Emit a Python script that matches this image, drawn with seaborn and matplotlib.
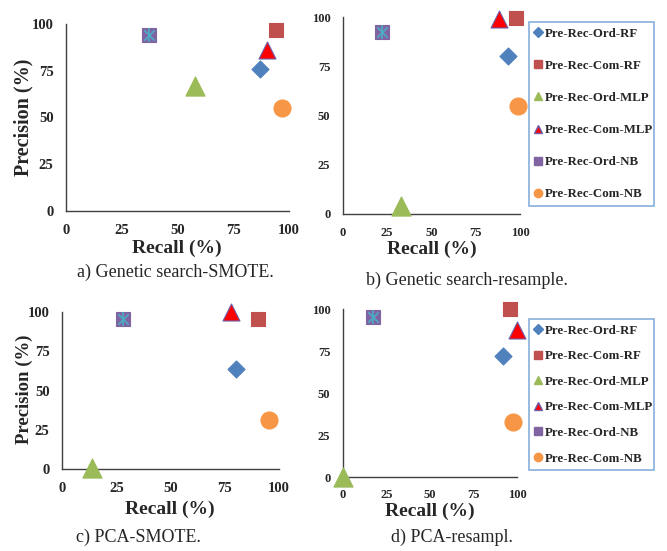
import matplotlib
matplotlib.use("Agg")
import matplotlib.pyplot as plt
from matplotlib.lines import Line2D
import pandas as pd
import seaborn as sns

series = ["Pre-Rec-Ord-RF", "Pre-Rec-Com-RF", "Pre-Rec-Ord-MLP",
          "Pre-Rec-Com-MLP", "Pre-Rec-Ord-NB", "Pre-Rec-Com-NB"]

# recall / precision per panel (%)
recall_a = [87, 94, 58, 90, 37, 97]
precision_a = [76, 97, 67, 86, 94, 55]
recall_b = [93, 98, 33, 88, 22, 99]
precision_b = [80, 99.5, 4, 99, 92.5, 55]
recall_c = [80, 90.5, 14, 78, 28, 95.5]
precision_c = [64, 95.5, 0.5, 100, 95.5, 31]
recall_d = [92, 96, 0, 100, 17, 97.5]
precision_d = [72, 100, 0, 87.5, 95, 33]

ticks = [0, 25, 50, 75, 100]
captions = ["a) Genetic search-SMOTE.", "b) Genetic search-resample.",
            "c) PCA-SMOTE.", "d) PCA-resampl."]

colors = {"Pre-Rec-Ord-RF": "#4F81BD", "Pre-Rec-Com-RF": "#C0504D",
          "Pre-Rec-Ord-MLP": "#9BBB59", "Pre-Rec-Com-MLP": "#FF0000",
          "Pre-Rec-Ord-NB": "#8064A2", "Pre-Rec-Com-NB": "#F79646"}
markers = {"Pre-Rec-Ord-RF": "D", "Pre-Rec-Com-RF": "s",
           "Pre-Rec-Ord-MLP": "^", "Pre-Rec-Com-MLP": "^",
           "Pre-Rec-Ord-NB": "s", "Pre-Rec-Com-NB": "o"}
sizes = {"Pre-Rec-Ord-RF": 75, "Pre-Rec-Com-RF": 110,
         "Pre-Rec-Ord-MLP": 190, "Pre-Rec-Com-MLP": 150,
         "Pre-Rec-Ord-NB": 110, "Pre-Rec-Com-NB": 150}
edges = {"Pre-Rec-Com-MLP": "#6F5FA8", "Pre-Rec-Ord-NB": "#8064A2"}

sns.set_style("white")
plt.rcParams["font.family"] = ["Liberation Serif", "DejaVu Serif"]
plt.rcParams["font.weight"] = "bold"

W, H = 667, 551
fig = plt.figure(figsize=(W / 100, H / 100), dpi=100)


def px_rect(x0, x1, ytop, ybot):
    return [x0 / W, 1 - ybot / H, (x1 - x0) / W, (ybot - ytop) / H]


def draw_panel(rect, rec, prec, tick_size):
    ax = fig.add_axes(rect)
    df = pd.DataFrame({"series": series, "recall": rec, "precision": prec})
    for s in series:
        sub = df[df["series"] == s]
        sns.scatterplot(data=sub, x="recall", y="precision", marker=markers[s],
                        s=sizes[s], color=colors[s],
                        edgecolor=edges.get(s, colors[s]), linewidth=0.8,
                        ax=ax, clip_on=False, zorder=3)
    nb = df[df["series"] == "Pre-Rec-Ord-NB"]
    for m, sz in (("x", 55), ("|", 90)):
        ax.scatter(nb["recall"], nb["precision"], marker=m, s=sz,
                   color="#4BACC6", linewidths=1.2, zorder=4, clip_on=False)
    ax.set_xlim(0, 100)
    ax.set_ylim(0, 100)
    ax.set_xticks(ticks)
    ax.set_yticks(ticks)
    ax.set_xlabel("")
    ax.set_ylabel("")
    sns.despine(ax=ax)
    for sp in ("left", "bottom"):
        ax.spines[sp].set_color("#404040")
        ax.spines[sp].set_linewidth(1.0)
    ax.tick_params(axis="both", direction="out", length=4, width=1,
                   color="#404040", labelsize=tick_size, pad=5)
    for lab in ax.get_xticklabels() + ax.get_yticklabels():
        lab.set_fontweight("bold")
    return ax


def add_legend(x0, x1, ytop, ybot, spacing):
    handles = [Line2D([], [], linestyle="none", marker=markers[s],
                      markersize=6 if markers[s] != "D" else 5,
                      markerfacecolor=colors[s],
                      markeredgecolor=edges.get(s, colors[s]), label=s)
               for s in series]
    leg = fig.legend(handles=handles, loc="center",
                     bbox_to_anchor=(x0 / W, 1 - ybot / H, (x1 - x0) / W, (ybot - ytop) / H),
                     mode="expand", prop={"weight": "bold", "size": 9.3},
                     labelspacing=spacing, handlelength=0.5, handletextpad=0.25,
                     borderpad=0.45, borderaxespad=0, fancybox=False)
    leg.get_frame().set_edgecolor("#6A9BD2")
    leg.get_frame().set_linewidth(1.2)


draw_panel(px_rect(66, 289, 24, 211), recall_a, precision_a, 10.5)
draw_panel(px_rect(343, 520, 17, 214), recall_b, precision_b, 9)
draw_panel(px_rect(62, 279, 312, 469), recall_c, precision_c, 10.5)
draw_panel(px_rect(343, 517, 309, 477), recall_d, precision_d, 9)

add_legend(529, 654, 23, 205, 1.55)
add_legend(529, 654, 317, 472, 1.05)

label_kw = dict(fontsize=14, fontweight="bold", ha="center", va="center")
for cx, cy in ((177, 248), (432, 249), (170, 509), (430, 511)):
    fig.text(cx / W, 1 - cy / H, "Recall (%)", **label_kw)
for (cx, cy), fs in (((23, 117), 14.5), ((24, 389), 13.5)):
    fig.text(cx / W, 1 - cy / H, "Precision (%)", rotation=90,
             fontsize=fs, fontweight="bold", ha="center", va="center")

cap_kw = dict(fontsize=13, fontweight="normal", ha="center", va="center")
for (cx, cy), txt in zip(((175, 272), (467, 280), (138, 537), (452, 537)), captions):
    fig.text(cx / W, 1 - cy / H, txt, **cap_kw)

fig.savefig("out.png", dpi=100)
